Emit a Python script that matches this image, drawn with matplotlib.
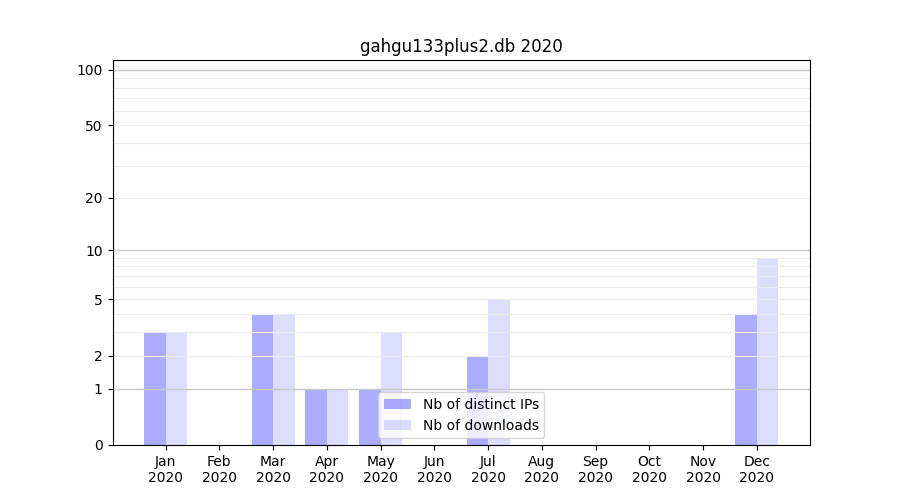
import numpy as np
import matplotlib
matplotlib.use('Agg')
import matplotlib.pyplot as plt
from matplotlib.ticker import NullLocator

# monthly stats for the db
months = ['Jan', 'Feb', 'Mar', 'Apr', 'May', 'Jun', 'Jul', 'Aug', 'Sep', 'Oct', 'Nov', 'Dec']
year = '2020'
distinct_ips = [3, 0, 4, 1, 1, 0, 2, 0, 0, 0, 0, 4]
downloads = [3, 0, 4, 1, 3, 0, 5, 0, 0, 0, 0, 9]
yticks = [0, 1, 2, 5, 10, 20, 50, 100]

fig, ax = plt.subplots(figsize=(9, 5), dpi=100)
x = np.arange(len(months))
ax.set_yscale('function', functions=(lambda v: np.log10(np.clip(v, 0, None) + 1),
                                      lambda v: 10 ** v - 1))
ax.bar(x - 0.2, distinct_ips, width=0.4, color='blue', alpha=0.33, label='Nb of distinct IPs')
ax.bar(x + 0.2, downloads, width=0.4, color='blue', alpha=0.135, label='Nb of downloads')

# grid: darker at decades, light in between (over the bars, under the spines)
for v in list(range(2, 10)) + list(range(20, 100, 10)):
    ax.axhline(v, color='#ebebeb', lw=0.8, zorder=1.5)
for v in [1, 10, 100]:
    ax.axhline(v, color='#c8c8c8', lw=1.0, zorder=1.5)

ax.set_yticks(yticks)
ax.set_yticklabels([str(t) for t in yticks])
ax.set_ylim(0, 113)
ax.yaxis.set_minor_locator(NullLocator())
ax.set_xticks(x)
ax.set_xticklabels([m + '\n' + year for m in months])
ax.set_title('gahgu133plus2.db ' + year)
ax.legend(loc='lower center')
plt.savefig('out.png')
